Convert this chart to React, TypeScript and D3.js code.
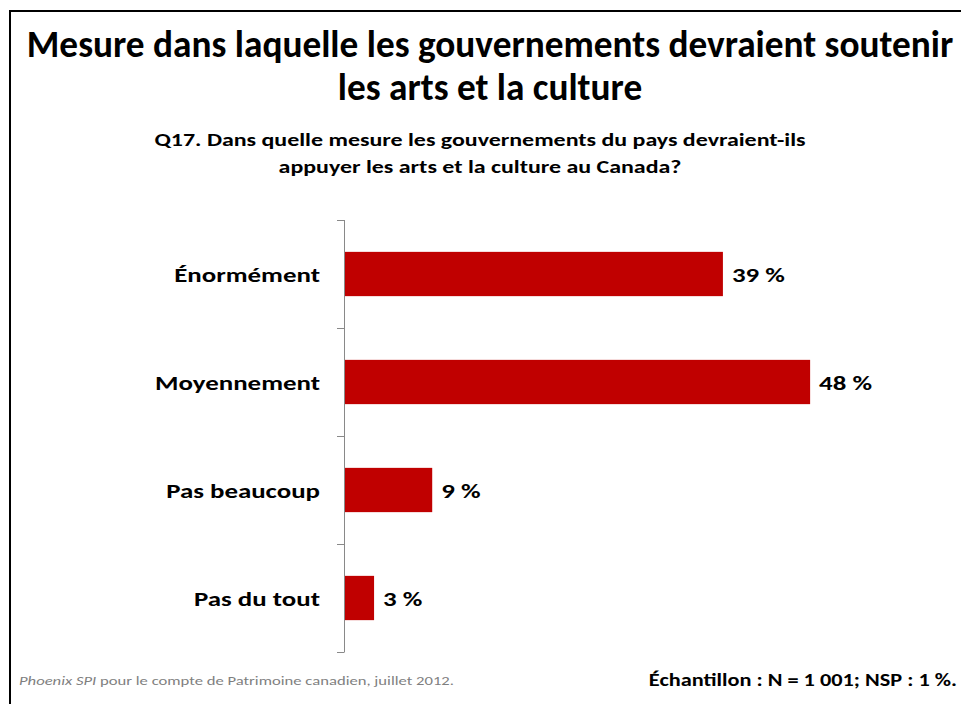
import React, { useEffect, useRef } from 'react';
import * as d3 from 'd3';

const categories = ['Énormément', 'Moyennement', 'Pas beaucoup', 'Pas du tout'];
const values = [39, 48, 9, 3];
const titleLines = [
  'Mesure dans laquelle les gouvernements devraient soutenir',
  'les arts et la culture',
];
const subtitleLines = [
  'Q17. Dans quelle mesure les gouvernements du pays devraient-ils',
  'appuyer les arts et la culture au Canada?',
];
const sourceItalic = 'Phoenix SPI';
const sourceRest = ' pour le compte de Patrimoine canadien, juillet 2012.';
const sampleNote = 'Échantillon : N = 1 001; NSP : 1 %.';

const FONT = 'Carlito, Calibri, Lato, sans-serif';
// the original slide's chart text is horizontally stretched
const STRETCH = 1.28;

const App: React.FC = () => {
  const svgRef = useRef<SVGSVGElement>(null);

  useEffect(() => {
    document.body.style.margin = '0';
    const width = 961;
    const height = 704;
    const svg = d3.select(svgRef.current);
    svg.selectAll('*').remove();
    svg.attr('width', width).attr('height', height).style('font-family', FONT);

    svg.append('rect').attr('width', width).attr('height', height).attr('fill', '#fff');

    // slide frame (left + top edges visible)
    svg.append('path')
      .attr('d', `M10,${height} V11 H${width}`)
      .attr('fill', 'none')
      .attr('stroke', '#000')
      .attr('stroke-width', 2);

    const stretched = (
      parent: d3.Selection<any, any, any, any>,
      tx: number,
      ty: number,
      anchor: string,
      size: number,
      sx = STRETCH
    ) =>
      parent.append('g')
        .attr('transform', `translate(${tx},${ty}) scale(${sx},1)`)
        .append('text')
        .attr('text-anchor', anchor)
        .attr('font-size', size)
        .attr('font-weight', 700)
        .attr('fill', '#000');

    // title
    titleLines.forEach((t, i) => {
      svg.append('text')
        .attr('x', 490)
        .attr('y', 57 + i * 43)
        .attr('text-anchor', 'middle')
        .attr('font-size', 37.3)
        .attr('font-weight', 700)
        .attr('fill', '#000')
        .text(t);
    });

    // subtitle
    subtitleLines.forEach((t, i) => {
      stretched(svg, 480, 146 + i * 27, 'middle', 18, 1.33).text(t);
    });

    const x = d3.scaleLinear().domain([0, 50]).range([345, 345 + 50 * 9.69]);
    const y = d3.scaleBand<string>()
      .domain(categories)
      .range([220, 652])
      .paddingInner(0.59)
      .paddingOuter(0.295);

    // axis line and ticks at band boundaries
    const axisG = svg.append('g');
    axisG.append('line')
      .attr('x1', 344.5).attr('x2', 344.5)
      .attr('y1', 220).attr('y2', 652)
      .attr('stroke', '#898989')
      .attr('stroke-width', 1);
    const boundaries = d3.range(categories.length + 1).map(i => 220 + i * y.step());
    axisG.selectAll('.tick')
      .data(boundaries)
      .enter().append('line')
      .attr('x1', 337).attr('x2', 344.5)
      .attr('y1', d => d + 0.5).attr('y2', d => d + 0.5)
      .attr('stroke', '#898989')
      .attr('stroke-width', 1);

    // bars
    svg.append('g')
      .selectAll('rect')
      .data(values)
      .enter().append('rect')
      .attr('x', x(0))
      .attr('y', (_, i) => y(categories[i])!)
      .attr('width', d => x(d) - x(0))
      .attr('height', y.bandwidth())
      .attr('fill', '#c00000');

    // category labels
    categories.forEach(c => {
      stretched(svg, 320, y(c)! + y.bandwidth() / 2, 'end', 21)
        .attr('dy', '0.36em')
        .text(c);
    });

    // value labels
    values.forEach((v, i) => {
      stretched(svg, x(v) + 9, y(categories[i])! + y.bandwidth() / 2, 'start', 21)
        .attr('dy', '0.36em')
        .text(`${v} %`);
    });

    // footer
    const src = svg.append('g')
      .attr('transform', `translate(19,685) scale(${STRETCH},1)`)
      .append('text')
      .attr('font-size', 13)
      .attr('fill', '#7f7f7f');
    src.append('tspan').attr('font-style', 'italic').text(sourceItalic);
    src.append('tspan').text(sourceRest);

    stretched(svg, 957, 686, 'end', 18, 1.24).text(sampleNote);
  }, []);

  return <svg ref={svgRef}></svg>;
};

export default App;
